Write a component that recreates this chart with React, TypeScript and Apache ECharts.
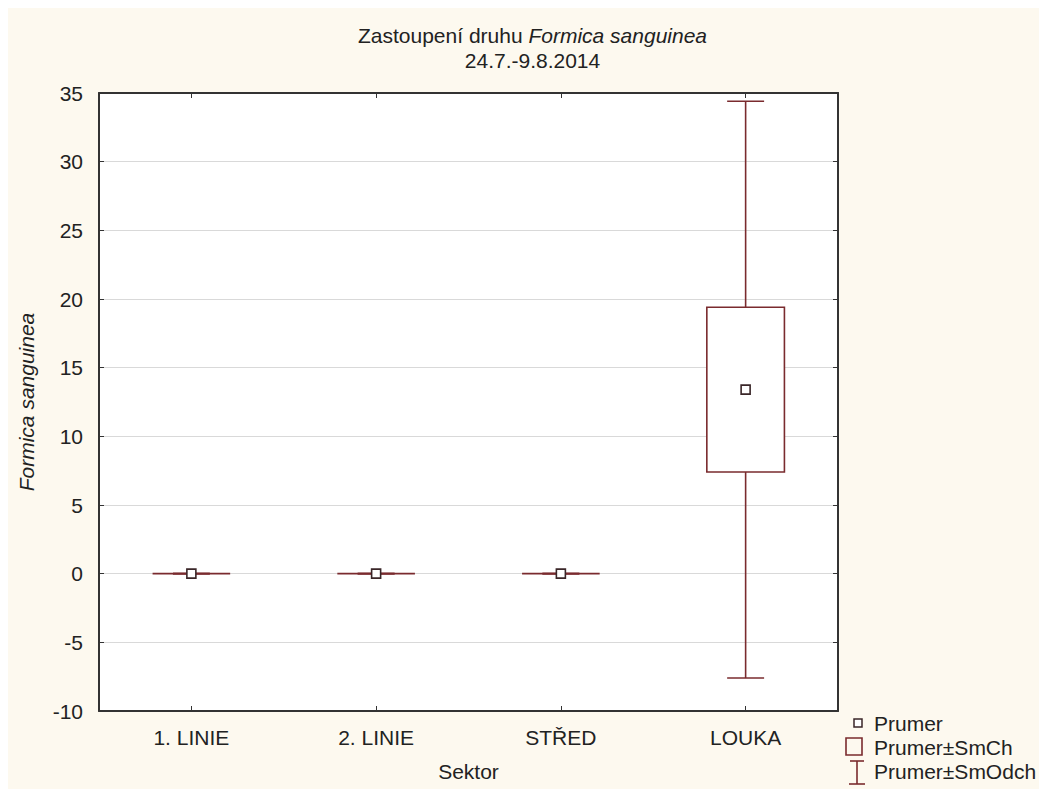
import React, { useEffect, useRef } from "react";
import * as echarts from "echarts";

// Sectors and summary statistics of Formica sanguinea counts
const sectors = ["1. LINIE", "2. LINIE", "STŘED", "LOUKA"];
const means = [0, 0, 0, 13.4];
const stdErrors = [0, 0, 0, 6.0];
const stdDevs = [0, 0, 0, 21.0];

// Value axis range
const yMin = -10;
const yMax = 35;
const yStep = 5;

const FONT = "Liberation Sans, Arial, sans-serif";
const BG = "#FDF9EF";
const SERIES_COLOR = "#7A2B2E";
const MARKER_COLOR = "#3A2628";
const TEXT_COLOR = "#222222";
const FRAME_COLOR = "#333333";
const CHART_W = 1039;
const CHART_H = 781;

export default function App() {
  const ref = useRef<HTMLDivElement>(null);

  useEffect(() => {
    document.documentElement.style.overflow = "hidden";
    if (!ref.current) return;
    const chart = echarts.init(ref.current, null, { renderer: "svg" });

    const data = sectors.map((_, i) => [i, means[i], stdErrors[i], stdDevs[i]]);

    const renderItem = (_params: any, api: any) => {
      const i = api.value(0);
      const m = api.value(1);
      const se = api.value(2);
      const sd = api.value(3);
      const band = api.size([1, 0])[0];
      const [cx, cy] = api.coord([i, m]);
      const boxTop = api.coord([i, m + se])[1];
      const boxBot = api.coord([i, m - se])[1];
      const whTop = api.coord([i, m + sd])[1];
      const whBot = api.coord([i, m - sd])[1];
      const boxW = band * 0.42;
      const capW = band * 0.2;
      const mk = 9;
      const line = { stroke: SERIES_COLOR, lineWidth: 1.6, fill: "none" };
      return {
        type: "group",
        children: [
          { type: "line", shape: { x1: cx, y1: whTop, x2: cx, y2: boxTop }, style: line },
          { type: "line", shape: { x1: cx, y1: boxBot, x2: cx, y2: whBot }, style: line },
          { type: "line", shape: { x1: cx - capW / 2, y1: whTop, x2: cx + capW / 2, y2: whTop }, style: line },
          { type: "line", shape: { x1: cx - capW / 2, y1: whBot, x2: cx + capW / 2, y2: whBot }, style: line },
          {
            type: "rect",
            shape: { x: cx - boxW / 2, y: boxTop, width: boxW, height: boxBot - boxTop },
            style: { stroke: SERIES_COLOR, lineWidth: 1.6, fill: "#ffffff" },
          },
          {
            type: "rect",
            shape: { x: cx - mk / 2, y: cy - mk / 2, width: mk, height: mk },
            style: { stroke: MARKER_COLOR, lineWidth: 1.6, fill: "#ffffff" },
          },
        ],
      };
    };

    const legendText = (y: number, text: string) => ({
      type: "text",
      x: 866,
      y,
      style: { text, font: `21px ${FONT}`, fill: TEXT_COLOR, verticalAlign: "middle", textAlign: "left" },
    });
    const lg = { stroke: SERIES_COLOR, lineWidth: 1.6, fill: "none" };

    const frameAxis = {
      axisLine: { onZero: false, lineStyle: { color: FRAME_COLOR, width: 2 } },
      axisTick: { show: true, inside: true, length: 5, lineStyle: { color: FRAME_COLOR } },
    };

    chart.setOption({
      animation: false,
      backgroundColor: BG,
      title: {
        left: CHART_W / 2,
        top: 10,
        textAlign: "center",
        text: "{n|Zastoupení druhu }{i|Formica sanguinea}\n{n|24.7.-9.8.2014}",
        textStyle: {
          fontWeight: "normal",
          rich: {
            n: { fontFamily: FONT, fontSize: 21, fontWeight: "normal", color: TEXT_COLOR, lineHeight: 25 },
            i: { fontFamily: FONT, fontSize: 21, fontWeight: "normal", color: TEXT_COLOR, fontStyle: "italic", lineHeight: 25 },
          },
        },
      },
      grid: { left: 90, top: 85, right: 209, bottom: 78, show: true, backgroundColor: "#ffffff", borderWidth: 0 },
      xAxis: [
        {
          type: "category",
          data: sectors,
          position: "bottom",
          ...frameAxis,
          axisTick: { ...frameAxis.axisTick, alignWithLabel: true },
          axisLabel: { fontFamily: FONT, fontSize: 21, color: TEXT_COLOR, margin: 16 },
          name: "Sektor",
          nameLocation: "middle",
          nameGap: 50,
          nameTextStyle: { fontFamily: FONT, fontSize: 21, color: TEXT_COLOR },
        },
        {
          type: "category",
          data: sectors,
          position: "top",
          ...frameAxis,
          axisTick: { ...frameAxis.axisTick, alignWithLabel: true },
          axisLabel: { show: false },
        },
      ],
      yAxis: [
        {
          type: "value",
          min: yMin,
          max: yMax,
          interval: yStep,
          position: "left",
          ...frameAxis,
          axisLine: { show: true, onZero: false, lineStyle: { color: FRAME_COLOR, width: 2 } },
          axisLabel: { fontFamily: FONT, fontSize: 21, color: TEXT_COLOR, margin: 16 },
          splitLine: { lineStyle: { color: "#D9D9D9", width: 1 } },
          name: "Formica sanguinea",
          nameLocation: "middle",
          nameGap: 62,
          nameTextStyle: { fontFamily: FONT, fontSize: 21, color: TEXT_COLOR, fontStyle: "italic" },
        },
        {
          type: "value",
          min: yMin,
          max: yMax,
          interval: yStep,
          position: "right",
          ...frameAxis,
          axisLine: { show: true, onZero: false, lineStyle: { color: FRAME_COLOR, width: 2 } },
          axisLabel: { show: false },
          splitLine: { show: false },
        },
      ],
      series: [
        {
          type: "custom",
          xAxisIndex: 0,
          yAxisIndex: 0,
          renderItem,
          encode: { x: 0, y: 1 },
          data,
          z: 10,
        },
      ],
      graphic: [
        { type: "rect", shape: { x: 846, y: 711, width: 8, height: 8 }, style: { stroke: MARKER_COLOR, lineWidth: 1.5, fill: "#ffffff" } },
        legendText(715, "Prumer"),
        { type: "rect", shape: { x: 838, y: 730, width: 16, height: 17 }, style: { stroke: SERIES_COLOR, lineWidth: 1.6, fill: "none" } },
        legendText(739, "Prumer±SmCh"),
        { type: "line", shape: { x1: 849, y1: 753, x2: 849, y2: 776 }, style: lg },
        { type: "line", shape: { x1: 842, y1: 753, x2: 856, y2: 753 }, style: lg },
        { type: "line", shape: { x1: 841, y1: 776, x2: 857, y2: 776 }, style: lg },
        legendText(763, "Prumer±SmOdch"),
      ],
    });

    return () => chart.dispose();
  }, []);

  return <div ref={ref} style={{ width: CHART_W, height: CHART_H }} />;
}
